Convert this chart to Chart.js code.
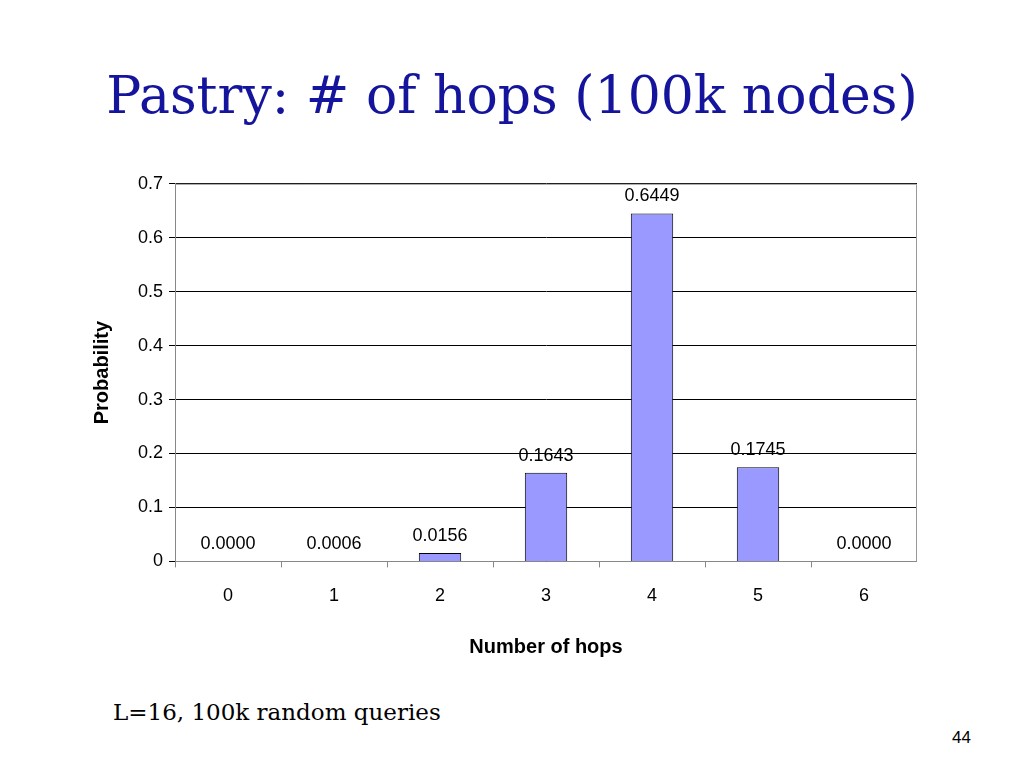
<!DOCTYPE html>
<html><head><meta charset="utf-8">
<script src="https://cdn.jsdelivr.net/npm/chart.js@4"></script>
<style>
body{margin:0;width:1024px;height:768px;background:#fff;position:relative;overflow:hidden}
#title{position:absolute;left:0;width:1024px;top:65px;text-align:center;font-family:"DejaVu Serif","Liberation Serif",serif;font-size:52px;color:#14149c}
#note{position:absolute;left:113px;top:699px;font-family:"DejaVu Serif","Liberation Serif",serif;font-size:23px;color:#000}
#pg{position:absolute;left:952px;top:728px;font-family:"Liberation Sans",Arial,sans-serif;font-size:17px}
#wrap{position:absolute;left:86px;top:167px;width:831px;height:496px}
</style></head><body>
<div id="title">Pastry: # of hops (100k nodes)</div>
<div id="wrap"><canvas id="c"></canvas></div>
<div id="note">L=16, 100k random queries</div>
<div id="pg">44</div>
<script>
const categories=["0","1","2","3","4","5","6"];
const values=[0.0000,0.0006,0.0156,0.1643,0.6449,0.1745,0.0000];
const yTicks=[0,0.1,0.2,0.3,0.4,0.5,0.6,0.7];
const labelPlugin={id:'lbl',afterDatasetsDraw(ch){const c=ch.ctx;const m=ch.getDatasetMeta(0);c.save();c.font='18px "Liberation Sans",Arial,sans-serif';c.fillStyle='#000';c.textAlign='center';c.textBaseline='bottom';
m.data.forEach((b,i)=>{c.fillText(values[i].toFixed(4),b.x,b.y-8);});c.restore();}};
new Chart(document.getElementById('c'),{type:'bar',
data:{labels:categories,datasets:[{data:values,backgroundColor:'#9999ff',borderColor:'#000',borderWidth:1,categoryPercentage:1,barPercentage:0.4}]},
options:{animation:false,responsive:true,maintainAspectRatio:false,
plugins:{legend:{display:false},tooltip:{enabled:false}},
layout:{padding:{top:8,right:0}},
scales:{
x:{grid:{offset:true,display:true,drawOnChartArea:false,color:'#888',tickLength:6},border:{color:'#888'},
ticks:{color:'#000',font:{size:18,family:'"Liberation Sans",Arial'},padding:18},
title:{display:true,text:'Number of hops',color:'#000',font:{size:20,weight:'bold',family:'"Liberation Sans",Arial'},padding:{top:10}}},
y:{min:0,max:0.7,afterBuildTicks(a){a.ticks=yTicks.map(v=>({value:v}));},
grid:{color:'#000',tickLength:6},border:{color:'#888'},
ticks:{color:'#000',font:{size:18,family:'"Liberation Sans",Arial'},callback:v=>String(v),padding:6},
title:{display:true,text:'Probability',color:'#000',font:{size:20,weight:'bold',family:'"Liberation Sans",Arial'},padding:{bottom:18}}}}},
plugins:[labelPlugin,{id:'frame',afterDraw(ch){const a=ch.chartArea,c=ch.ctx;c.save();c.strokeStyle='#999';c.lineWidth=1;c.beginPath();c.moveTo(a.left,a.top+0.5);c.lineTo(a.right-0.5,a.top+0.5);c.lineTo(a.right-0.5,a.bottom);c.stroke();c.restore();}}]});
</script></body></html>
